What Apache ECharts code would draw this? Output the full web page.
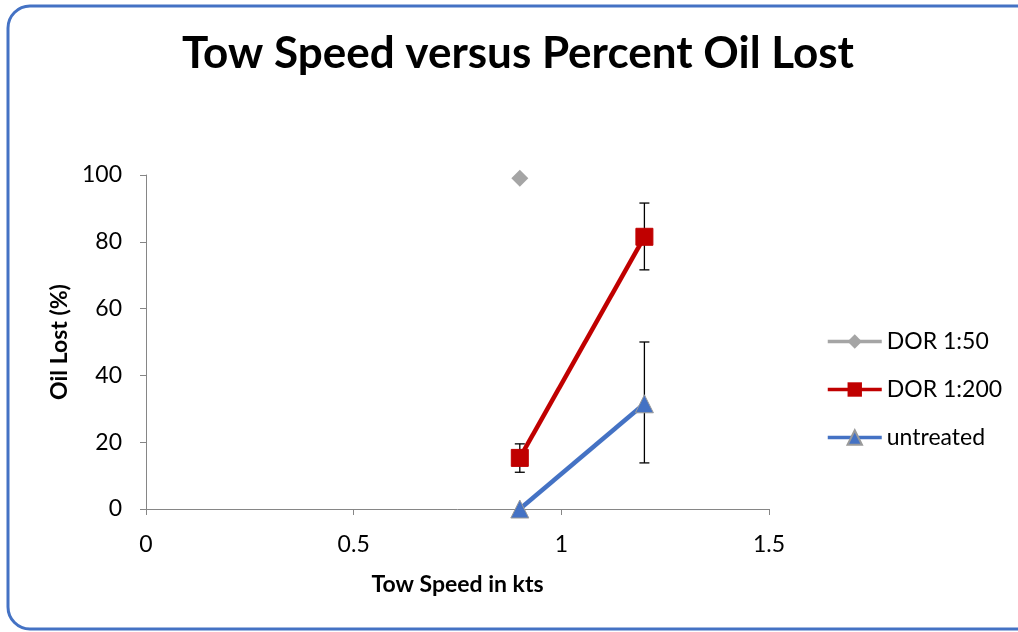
<!DOCTYPE html>
<html>
<head>
<meta charset="utf-8">
<script src="https://cdn.jsdelivr.net/npm/echarts@6/dist/echarts.min.js"></script>
<style>
html, body { margin: 0; padding: 0; background: #fff; }
#chart { width: 1018px; height: 632px; }
</style>
</head>
<body>
<div id="chart"></div>
<script>
// data
var seriesNames = ['DOR 1:50', 'DOR 1:200', 'untreated'];
var dor50 = [[0.9, 99]];
var dor200 = [[0.9, 15.3], [1.2, 81.5]];
var untreated = [[0.9, 0], [1.2, 31.5]];
// error bars: [x, low, high]
var dor200Err = [[0.9, 11, 19.5], [1.2, 71.6, 91.6]];
var untreatedErr = [[1.2, 13.8, 50]];
var xTicks = [0, 0.5, 1, 1.5];

var font = 'Lato, "Open Sans", sans-serif';

function errorBar(params, api) {
	var top = api.coord([api.value(0), api.value(2)]);
	var bot = api.coord([api.value(0), api.value(1)]);
	var cap = 5;
	var st = { stroke: '#000', lineWidth: 1.3 };
	return {
		type: 'group',
		children: [
			{ type: 'line', shape: { x1: top[0], y1: top[1], x2: bot[0], y2: bot[1] }, style: st },
			{ type: 'line', shape: { x1: top[0] - cap, y1: top[1], x2: top[0] + cap, y2: top[1] }, style: st },
			{ type: 'line', shape: { x1: bot[0] - cap, y1: bot[1], x2: bot[0] + cap, y2: bot[1] }, style: st }
		]
	};
}

var chart = echarts.init(document.getElementById('chart'));
var option = {
	animation: false,
	textStyle: { fontFamily: font },
	title: {
		text: 'Tow Speed versus Percent Oil Lost',
		left: 177,
		top: 27,
		textStyle: { fontFamily: font, fontSize: 44, fontWeight: 'bold', color: '#000' }
	},
	graphic: [{
		type: 'rect',
		shape: { x: 8, y: 6, width: 1040, height: 623, r: 22 },
		style: { fill: 'none', stroke: '#4472C4', lineWidth: 3 },
		z: 100
	}],
	legend: {
		orient: 'vertical',
		left: 821,
		top: 325,
		itemWidth: 54,
		itemHeight: 18,
		itemGap: 25,
		data: seriesNames,
		lineStyle: { width: 3.5 },
		textStyle: { fontFamily: font, fontSize: 23, color: '#000' }
	},
	grid: { left: 146, right: 249, top: 175, bottom: 123 },
	xAxis: {
		type: 'value',
		min: 0, max: 1.5, interval: 0.5,
		name: 'Tow Speed in kts',
		nameLocation: 'middle',
		nameGap: 64,
		nameTextStyle: { fontFamily: font, fontSize: 23, fontWeight: 'bold', color: '#000' },
		splitLine: { show: false },
		axisLine: { lineStyle: { color: '#868686', width: 1 } },
		axisTick: { show: true, length: 6, lineStyle: { color: '#868686' } },
		axisLabel: {
			fontSize: 23, color: '#000', margin: 24,
			formatter: function (v) { return xTicks.indexOf(v) >= 0 ? String(v) : ''; }
		}
	},
	yAxis: {
		type: 'value',
		min: 0, max: 100, interval: 20,
		name: 'Oil Lost (%)',
		nameLocation: 'middle',
		nameGap: 75,
		nameTextStyle: { fontFamily: font, fontSize: 23, fontWeight: 'bold', color: '#000' },
		splitLine: { show: false },
		axisLine: { show: true, lineStyle: { color: '#868686', width: 1 } },
		axisTick: { show: true, length: 6, lineStyle: { color: '#868686' } },
		axisLabel: { fontSize: 23, color: '#000', margin: 24 }
	},
	series: [
		{
			name: 'DOR 1:50', type: 'line', data: dor50,
			symbol: 'diamond', symbolSize: 17,
			itemStyle: { color: '#A5A5A5' },
			lineStyle: { color: '#A5A5A5', width: 3.5 }
		},
		{
			name: 'DOR 1:200', type: 'line', data: dor200,
			symbol: 'rect', symbolSize: 17,
			itemStyle: { color: '#C00000', borderColor: '#C00000' },
			lineStyle: { color: '#C00000', width: 4.5 }
		},
		{
			name: 'untreated', type: 'line', data: untreated,
			symbol: 'triangle', symbolSize: 18,
			itemStyle: { color: '#4472C4', borderColor: '#9a9a9a', borderWidth: 1 },
			lineStyle: { color: '#4472C4', width: 4.5 }
		},
		{
			type: 'custom', renderItem: errorBar, data: dor200Err,
			encode: { x: 0, y: [1, 2] }, z: 1, silent: true
		},
		{
			type: 'custom', renderItem: errorBar, data: untreatedErr,
			encode: { x: 0, y: [1, 2] }, z: 1, silent: true
		}
	]
};
chart.setOption(option);
</script>
</body>
</html>
